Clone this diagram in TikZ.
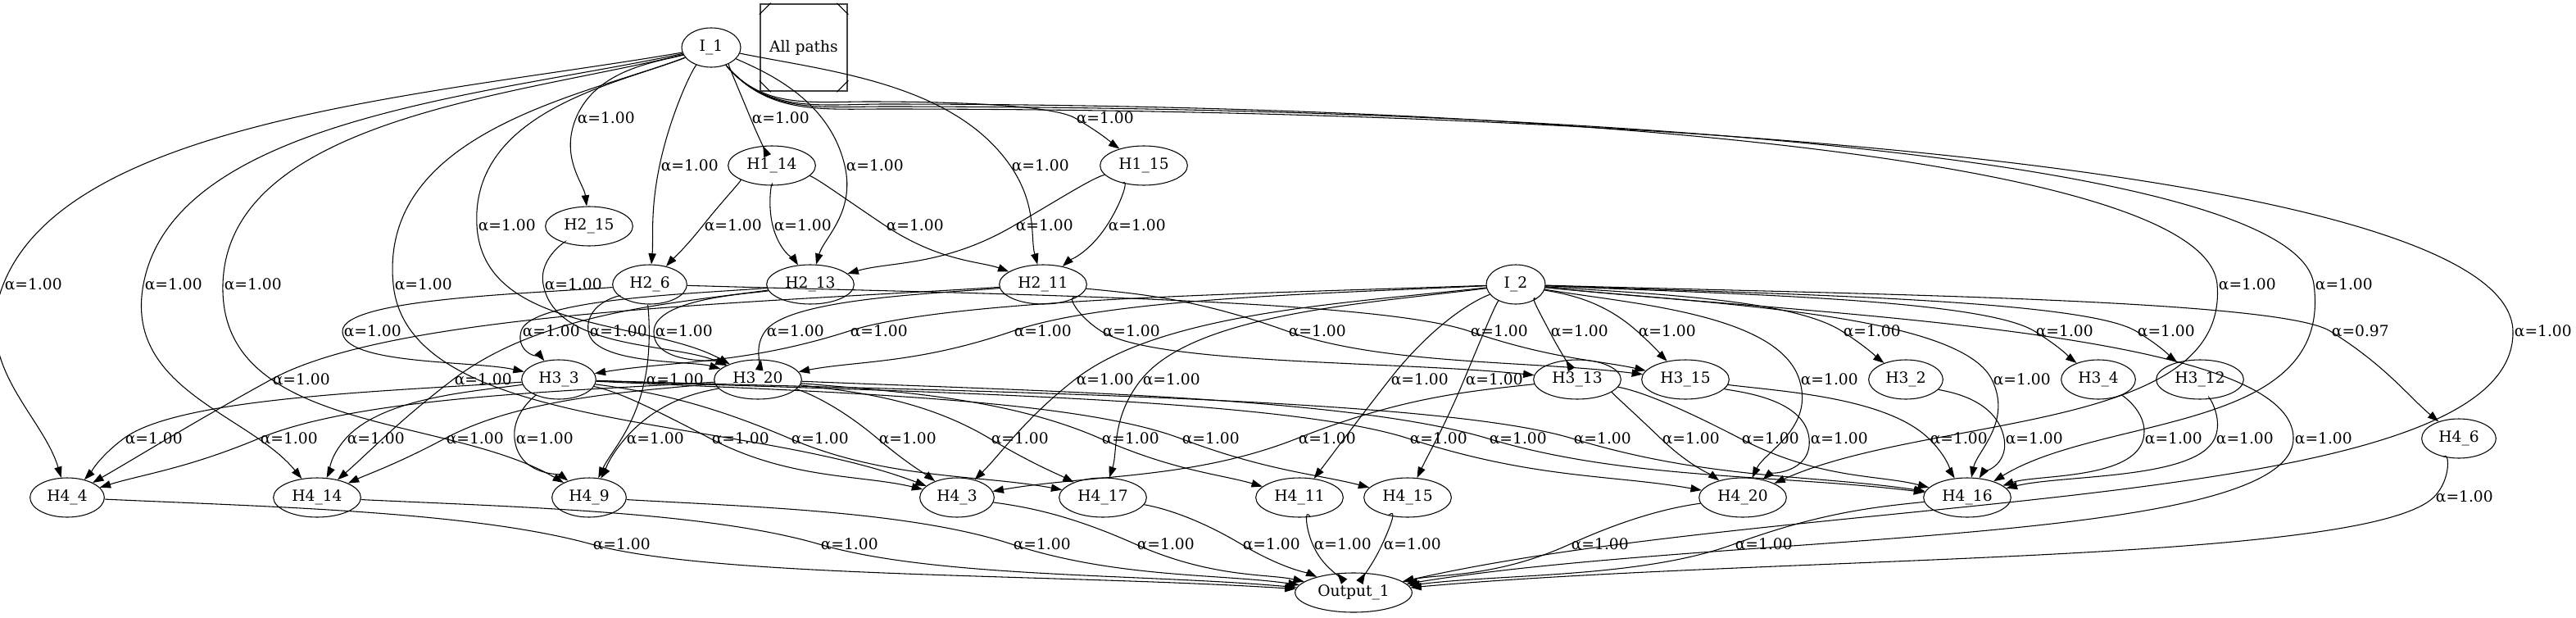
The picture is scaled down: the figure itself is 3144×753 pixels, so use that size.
\documentclass[tikz,border=0pt]{standalone}
\usepackage{fontspec}
\setmainfont{DejaVu Serif}
\usetikzlibrary{calc,arrows.meta,shapes.geometric}

\newcommand{\weighted}[5]{%
  \draw[link] let \p1=($(#3-36,#4)-(#1)$), \p2=($(#2)-(#3-36,#4)$),
      \p3=($(#3-36,#4)-(#2)$),
      \n1={veclen(\x1/10,\y1/10)}, \n2={veclen(\x2/10,\y2/10)},
      \n7={\x1/10/\n1+\x2/10/\n2}, \n8={\y1/10/\n1+\y2/10/\n2-0.4},
      \n3={atan2(\n8,\n7)}, \n4={\n3+180},
      \n9={max(abs(sin(\n3)),0.05)},
      \n{s1}={min(3.9*\n1,0.7*abs(\y1)/\n9)},
      \n{s2}={min(3.9*\n2,0.7*abs(\y2)/\n9)},
      \n6={atan2(\y3/10,\x3/10)}
    in (#1) .. controls +(0.39*\x1,0.2*\y1) and +(\n4:\n{s1}*1pt) .. (#3-36,#4)
    node[weight] {α=#5}
    .. controls +(\n3:\n{s2}*1pt) and +(\n6:3.9*\n2*1pt) .. (#2);}

\newcommand{\weightedvia}[7]{%
  \draw[link] let \p1=($(#5-36,#6)-(#3,#4)$), \p2=($(#2)-(#5-36,#6)$),
      \p3=($(#5-36,#6)-(#2)$),
      \n1={veclen(\x1/10,\y1/10)}, \n2={veclen(\x2/10,\y2/10)},
      \n7={\x1/10/\n1+\x2/10/\n2}, \n8={\y1/10/\n1+\y2/10/\n2-0.4},
      \n3={atan2(\n8,\n7)}, \n4={\n3+180},
      \n9={max(abs(sin(\n3)),0.05)},
      \n{s1}={min(3.9*\n1,0.7*abs(\y1)/\n9)},
      \n{s2}={min(3.9*\n2,0.7*abs(\y2)/\n9)},
      \n6={atan2(\y3/10,\x3/10)}
    in (#1) to[out=-50,in=180] (#3,#4)
    .. controls +(0.5*\x1,0pt) and +(\n4:\n{s1}*1pt) .. (#5-36,#6)
    node[weight] {α=#7}
    .. controls +(\n3:\n{s2}*1pt) and +(\n6:3.9*\n2*1pt) .. (#2);}

\begin{document}
\begin{tikzpicture}
  [x=0.75pt,y=-0.75pt,
   unit/.style={ellipse,draw,line width=0.8pt,inner sep=0pt,
                minimum width=68pt,minimum height=36pt,
                font=\fontsize{14}{17}\selectfont},
   wide unit/.style={unit,minimum width=80pt},
   input/.style={unit,minimum width=54pt},
   output/.style={unit,minimum width=107pt},
   box/.style={rectangle,draw=black!75,line width=1.5pt,inner sep=0pt,
               minimum size=80pt,font=\fontsize{14}{17}\selectfont},
   weight/.style={anchor=west,inner sep=0pt,xshift=1pt,
                  font=\fontsize{14}{17}\selectfont},
   link/.style={-{Triangle[length=10pt,width=7pt]},line width=0.8pt}]
  \useasboundingbox (0,0) rectangle (3144,753);

  \node[input]     (input 1) at (868,58)   {I\_1};
  \node[box]       (all paths) at (981,58) {All paths};
  \node[wide unit] (h1 14)   at (942,202)  {H1\_14};
  \node[wide unit] (h1 15)   at (1396,202) {H1\_15};
  \node[wide unit] (h2 15)   at (719,276)  {H2\_15};
  \node[unit]      (h2 6)    at (793,347)  {H2\_6};
  \node[wide unit] (h2 13)   at (989,347)  {H2\_13};
  \node[wide unit] (h2 11)   at (1273,347) {H2\_11};
  \node[input]     (input 2) at (1850,347) {I\_2};
  \node[unit]      (h3 3)    at (682,463)  {H3\_3};
  \node[wide unit] (h3 20)   at (925,463)  {H3\_20};
  \node[wide unit] (h3 13)   at (1925,463) {H3\_13};
  \node[wide unit] (h3 15)   at (2057,463) {H3\_15};
  \node[unit]      (h3 2)    at (2326,463) {H3\_2};
  \node[unit]      (h3 4)    at (2561,463) {H3\_4};
  \node[wide unit] (h3 12)   at (2685,463) {H3\_12};
  \node[unit]      (h4 6)    at (3001,535) {H4\_6};
  \node[unit]      (h4 4)    at (82,607)   {H4\_4};
  \node[wide unit] (h4 14)   at (387,607)  {H4\_14};
  \node[unit]      (h4 9)    at (719,607)  {H4\_9};
  \node[unit]      (h4 3)    at (1168,607) {H4\_3};
  \node[wide unit] (h4 17)   at (1346,607) {H4\_17};
  \node[wide unit] (h4 11)   at (1586,607) {H4\_11};
  \node[wide unit] (h4 15)   at (1718,607) {H4\_15};
  \node[wide unit] (h4 20)   at (2127,607) {H4\_20};
  \node[wide unit] (h4 16)   at (2401,607) {H4\_16};
  \node[output]    (output)  at (1652,723) {Output\_1};

  \draw[line width=0.8pt] (all paths.north west) ++(0,14) -- ++(14,-14);
  \draw[line width=0.8pt] (all paths.north east) ++(0,14) -- ++(-14,-14);
  \draw[line width=0.8pt] (all paths.south west) ++(0,-14) -- ++(14,14);
  \draw[line width=0.8pt] (all paths.south east) ++(0,-14) -- ++(-14,14);

  \weighted{input 1}{h2 15}{739}{144}{1.00}
  \weighted{input 1}{h1 14}{952}{144}{1.00}
  \weightedvia{input 1}{h1 15}{1060}{124}{1348}{144}{1.00}
  \weighted{input 1}{h2 6}{841}{202}{1.00}
  \weighted{input 1}{h2 13}{1067}{202}{1.00}
  \weighted{input 1}{h2 11}{1269}{202}{1.00}
  \weighted{input 1}{h3 20}{618}{275}{1.00}
  \weighted{h1 14}{h2 6}{894}{275}{1.00}
  \weighted{h1 14}{h2 13}{979}{275}{1.00}
  \weighted{h1 14}{h2 11}{1116}{275}{1.00}
  \weighted{h1 15}{h2 13}{1274}{275}{1.00}
  \weighted{h1 15}{h2 11}{1387}{275}{1.00}
  \weighted{input 1}{h4 4}{40}{347}{1.00}
  \weighted{input 1}{h4 14}{211}{347}{1.00}
  \weighted{input 1}{h4 9}{308}{347}{1.00}
  \weighted{input 1}{h4 3}{516}{347}{1.00}
  \weighted{h2 15}{h3 20}{699}{347}{1.00}
  \weightedvia{input 1}{h4 20}{1080}{127}{2742}{347}{1.00}
  \weightedvia{input 1}{h4 16}{1080}{130}{2860}{347}{1.00}

  \weighted{h2 6}{h3 3}{454}{404}{1.00}
  \weighted{h2 13}{h3 3}{672}{404}{1.00}
  \weighted{h2 6}{h3 20}{754}{404}{1.00}
  \weighted{h2 13}{h3 20}{834}{404}{1.00}
  \weighted{h2 11}{h3 20}{970}{404}{1.00}
  \weighted{input 2}{h3 3}{1072}{404}{1.00}
  \weighted{input 2}{h3 20}{1272}{404}{1.00}
  \weighted{h2 11}{h3 13}{1380}{404}{1.00}
  \weighted{h2 11}{h3 15}{1607}{404}{1.00}
  \weighted{h2 6}{h3 15}{1829}{404}{1.00}
  \weighted{input 2}{h3 13}{1927}{404}{1.00}
  \weighted{input 2}{h3 15}{2034}{404}{1.00}
  \weighted{input 2}{h3 2}{2284}{404}{1.00}
  \weighted{input 2}{h3 4}{2519}{404}{1.00}
  \weighted{input 2}{h3 12}{2643}{404}{1.00}
  \weighted{input 2}{h4 6}{2880}{404}{0.97}
  \weightedvia{input 1}{output}{1080}{133}{3103}{404}{1.00}

  \weighted{h2 11}{h4 4}{367}{463}{1.00}
  \weighted{h2 13}{h4 14}{589}{463}{1.00}
  \weighted{h2 6}{h4 9}{823}{463}{1.00}
  \weighted{input 2}{h4 3}{1348}{463}{1.00}
  \weighted{input 2}{h4 17}{1429}{463}{1.00}
  \weighted{input 2}{h4 11}{1732}{463}{1.00}
  \weighted{input 2}{h4 15}{1823}{463}{1.00}
  \weighted{input 2}{h4 20}{2232}{463}{1.00}
  \weighted{input 2}{h4 16}{2467}{463}{1.00}

  \weighted{h3 3}{h4 4}{187}{535}{1.00}
  \weighted{h3 20}{h4 4}{352}{535}{1.00}
  \weighted{h3 3}{h4 14}{458}{535}{1.00}
  \weighted{h3 20}{h4 14}{579}{535}{1.00}
  \weighted{h3 3}{h4 9}{664}{535}{1.00}
  \weighted{h3 20}{h4 9}{799}{535}{1.00}
  \weighted{h3 3}{h4 3}{903}{535}{1.00}
  \weighted{h3 3}{h4 17}{1000}{535}{1.00}
  \weighted{h3 20}{h4 3}{1107}{535}{1.00}
  \weighted{h3 20}{h4 17}{1244}{535}{1.00}
  \weighted{h3 20}{h4 11}{1379}{535}{1.00}
  \weighted{h3 3}{h4 15}{1477}{535}{1.00}
  \weighted{h3 13}{h4 3}{1619}{535}{1.00}
  \weighted{h3 3}{h4 20}{1755}{535}{1.00}
  \weighted{h3 20}{h4 16}{1852}{535}{1.00}
  \weighted{h3 3}{h4 16}{1955}{535}{1.00}
  \weighted{h3 13}{h4 20}{2063}{535}{1.00}
  \weighted{h3 13}{h4 16}{2160}{535}{1.00}
  \weighted{h3 15}{h4 20}{2244}{535}{1.00}
  \weighted{h3 15}{h4 16}{2390}{535}{1.00}
  \weighted{h3 2}{h4 16}{2482}{535}{1.00}
  \weighted{h3 4}{h4 16}{2652}{535}{1.00}
  \weighted{h3 12}{h4 16}{2739}{535}{1.00}
  \weighted{input 2}{output}{2835}{535}{1.00}

  \weighted{h4 6}{output}{3007}{606}{1.00}
  \weighted{h4 4}{output}{758}{664}{1.00}
  \weighted{h4 14}{output}{1036}{664}{1.00}
  \weighted{h4 9}{output}{1271}{664}{1.00}
  \weighted{h4 3}{output}{1422}{664}{1.00}
  \weighted{h4 17}{output}{1551}{664}{1.00}
  \weighted{h4 11}{output}{1638}{664}{1.00}
  \weighted{h4 15}{output}{1723}{664}{1.00}
  \weighted{h4 20}{output}{1952}{664}{1.00}
  \weighted{h4 16}{output}{2152}{664}{1.00}
\end{tikzpicture}
\end{document}
